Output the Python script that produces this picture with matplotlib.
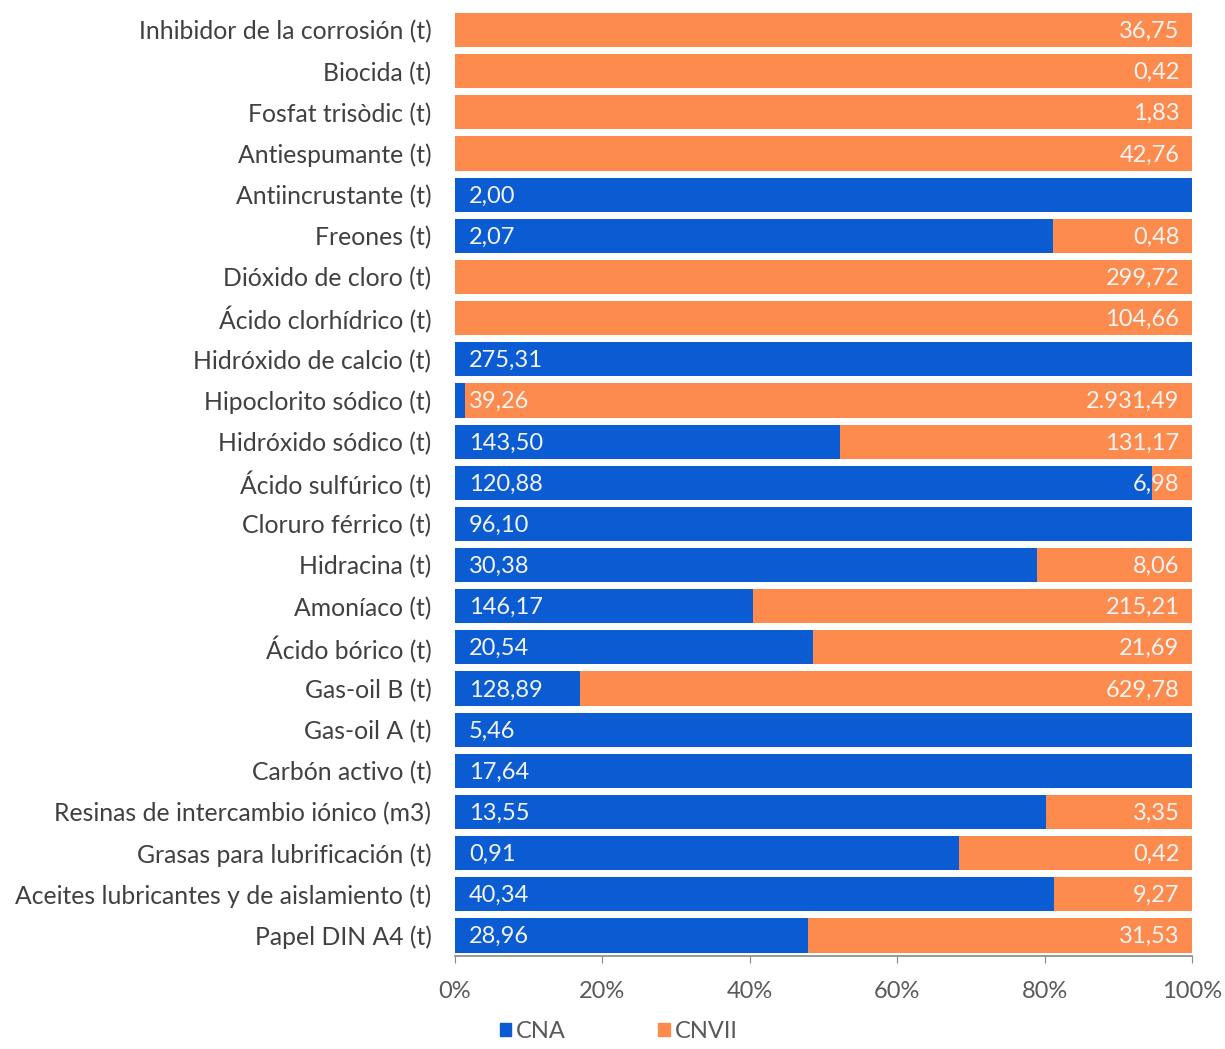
import matplotlib
matplotlib.use("Agg")
import matplotlib.pyplot as plt
from matplotlib.patches import Patch

plt.rcParams['font.family'] = ['Lato', 'DejaVu Sans']

categories = [
    "Inhibidor de la corrosión (t)",
    "Biocida (t)",
    "Fosfat trisòdic (t)",
    "Antiespumante (t)",
    "Antiincrustante (t)",
    "Freones (t)",
    "Dióxido de cloro (t)",
    "Ácido clorhídrico (t)",
    "Hidróxido de calcio (t)",
    "Hipoclorito sódico (t)",
    "Hidróxido sódico (t)",
    "Ácido sulfúrico (t)",
    "Cloruro férrico (t)",
    "Hidracina (t)",
    "Amoníaco (t)",
    "Ácido bórico (t)",
    "Gas-oil B (t)",
    "Gas-oil A (t)",
    "Carbón activo (t)",
    "Resinas de intercambio iónico (m3)",
    "Grasas para lubrificación (t)",
    "Aceites lubricantes y de aislamiento (t)",
    "Papel DIN A4 (t)",
]

cna = [0, 0, 0, 0, 2.00, 2.07, 0, 0, 275.31, 39.26, 143.50, 120.88, 96.10,
       30.38, 146.17, 20.54, 128.89, 5.46, 17.64, 13.55, 0.91, 40.34, 28.96]
cnvii = [36.75, 0.42, 1.83, 42.76, 0, 0.48, 299.72, 104.66, 0, 2931.49, 131.17,
         6.98, 0, 8.06, 215.21, 21.69, 629.78, 0, 0, 3.35, 0.42, 9.27, 31.53]

series_names = ["CNA", "CNVII"]
tick_labels = ["0%", "20%", "40%", "60%", "80%", "100%"]

blue = "#0b5cd3"
orange = "#fd8b4e"
label_color = "#404040"


def fmt(v):
    s = f"{v:,.2f}"
    return s.replace(",", "X").replace(".", ",").replace("X", ".")


fig = plt.figure(figsize=(12.25, 10.49), dpi=100)
ax = fig.add_axes([455 / 1225, 1 - 956 / 1049, (1192 - 455) / 1225, (956 - 9.5) / 1049])

ypos = list(range(len(categories)))
totals = [a + b for a, b in zip(cna, cnvii)]
share_a = [a / t for a, t in zip(cna, totals)]
share_b = [b / t for b, t in zip(cnvii, totals)]

ax.barh(ypos, share_a, height=0.83, color=blue, linewidth=0)
ax.barh(ypos, share_b, left=share_a, height=0.83, color=orange, linewidth=0)

for y, a, b in zip(ypos, cna, cnvii):
    if a > 0:
        ax.annotate(fmt(a), xy=(0, y), xytext=(10, -1), textcoords="offset points",
                    ha="left", va="center", color="#f4f4f4", fontsize=17)
    if b > 0:
        ax.annotate(fmt(b), xy=(1, y), xytext=(-9, -1), textcoords="offset points",
                    ha="right", va="center", color="#f4f4f4", fontsize=17)

ax.set_xlim(0, 1)
ax.set_ylim(len(categories) - 0.5, -0.5)
ax.set_yticks(ypos)
ax.set_yticklabels(categories, fontsize=17.8, color=label_color)
ax.set_xticks([0, 0.2, 0.4, 0.6, 0.8, 1.0])
ax.set_xticklabels(tick_labels, fontsize=17, color="#595959")
ax.tick_params(axis="y", length=0, pad=17)
ax.tick_params(axis="x", direction="out", length=5, color="#888888", pad=13)
for side in ("top", "right", "left"):
    ax.spines[side].set_visible(False)
ax.spines["bottom"].set_color("#888888")
ax.spines["bottom"].set_linewidth(1.2)

handles = [Patch(color=blue, label=series_names[0]), Patch(color=orange, label=series_names[1])]
fig.legend(handles=handles, loc="center", bbox_to_anchor=(0.505, 0.017), ncol=2,
           frameon=False, fontsize=17, handlelength=0.5, handleheight=0.5,
           handletextpad=0.2, columnspacing=3.9, labelcolor="#595959",
           borderpad=0.1)

fig.savefig("out.png", dpi=100)
